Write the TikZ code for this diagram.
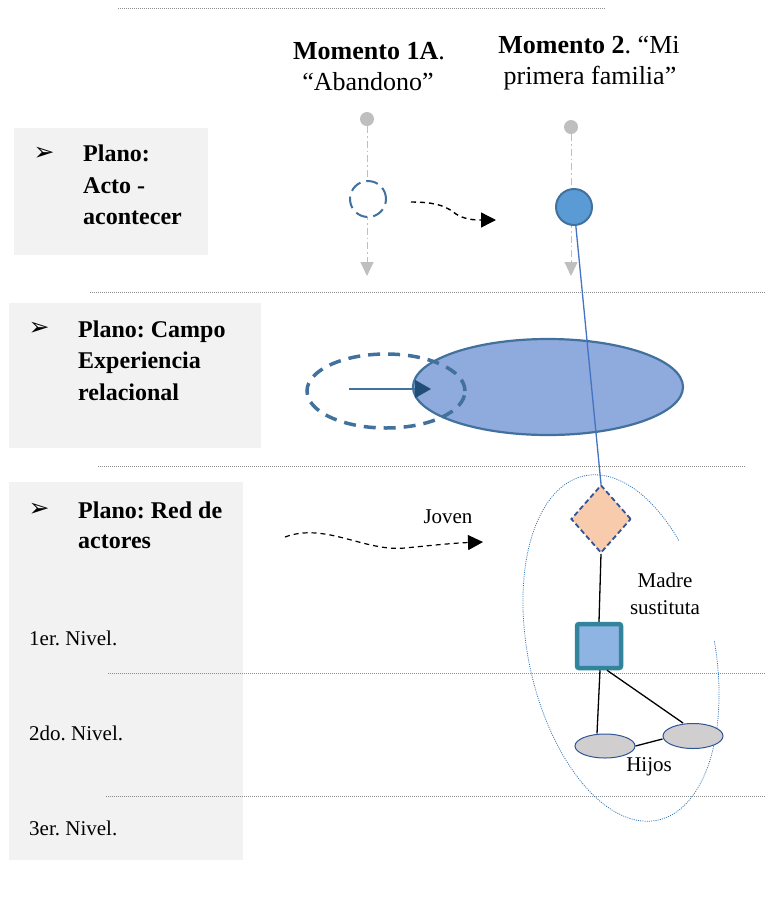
\documentclass[tikz,border=0pt]{standalone}
\usepackage{fontspec}
\setmainfont{Liberation Serif}
\newfontfamily\symfont{DejaVu Sans}
\usetikzlibrary{shapes.geometric,arrows.meta}
\definecolor{panelgray}{HTML}{F2F2F2}
\definecolor{sepgray}{HTML}{8C8C8C}
\definecolor{lgray}{HTML}{BFBFBF}
\definecolor{steel}{HTML}{41719C}
\definecolor{ellfill}{HTML}{8FAADC}
\definecolor{circfill}{HTML}{5B9BD5}
\definecolor{bline}{HTML}{4472C4}
\definecolor{darkblue}{HTML}{1F4E79}
\definecolor{diafill}{HTML}{F8CBAD}
\definecolor{diadraw}{HTML}{2F5597}
\definecolor{sqfill}{HTML}{8EB4E3}
\definecolor{sqdraw}{HTML}{31849B}
\definecolor{hijfill}{HTML}{D0CECE}
\definecolor{dotblue}{HTML}{2E75B6}
\frenchspacing
\begin{document}
\begin{tikzpicture}[x=1pt,y=-1pt,
  sep/.style={draw=sepgray, line width=0.8pt, dash pattern=on 1pt off 1pt},
  panel/.style={fill=panelgray},
  boldtxt/.style={anchor=base west, inner sep=0, font=\fontsize{24}{28}\selectfont\bfseries},
  lvl/.style={anchor=base west, inner sep=0, font=\fontsize{21}{25}\selectfont},
  bul/.style={anchor=base, inner sep=0, font=\symfont\fontsize{25}{25}\selectfont},
  head/.style={anchor=base, inner sep=0, font=\fontsize{26}{30}\selectfont},
  small/.style={inner sep=0, font=\fontsize{21}{25}\selectfont, align=center},
  gdot/.style={circle, fill=lgray, minimum size=14pt, inner sep=0},
  gline/.style={draw=lgray, line width=1pt, dash pattern=on 7pt off 3pt on 1.5pt off 3pt, -{Triangle[length=14pt,width=13pt,fill=lgray]}},
  blkarrow/.style={draw=black, line width=1.4pt, dash pattern=on 5pt off 4pt, -{Triangle[length=15pt,width=15pt]}},
  dashcirc/.style={circle, draw=steel, line width=2pt, dash pattern=on 12pt off 6pt, fill=white, minimum size=36pt, inner sep=0},
  fullcirc/.style={circle, draw=steel, line width=2pt, fill=circfill, minimum size=36pt, inner sep=0},
  bigell/.style={ellipse, draw=steel, line width=2.2pt, fill=ellfill, minimum width=270pt, minimum height=96pt, inner sep=0},
  dashell/.style={ellipse, draw=steel, line width=3.5pt, dash pattern=on 12pt off 8pt, minimum width=158pt, minimum height=74pt, inner sep=0},
  diastyle/.style={diamond, draw=diadraw, line width=1.8pt, dash pattern=on 5pt off 3pt, fill=diafill, minimum width=60pt, minimum height=68pt, inner sep=0},
  sqstyle/.style={rectangle, draw=sqdraw, line width=4.5pt, fill=sqfill, minimum size=44pt, inner sep=0, rounded corners=2pt},
  hijstyle/.style={ellipse, draw=diadraw, line width=1pt, fill=hijfill, minimum width=60pt, minimum height=24pt, inner sep=0},
  link/.style={draw=black, line width=1.3pt}
]
\useasboundingbox (0,0) rectangle (766,898);

% panels
\fill[panel] (14,128) rectangle (208,255);
\fill[panel] (9,303) rectangle (261,448);
\fill[panel] (9,482) rectangle (243,860);

% separators
\coordinate (s1a) at (118,8);   \coordinate (s1b) at (605,8);
\coordinate (s2a) at (90,292);  \coordinate (s2b) at (766,292);
\coordinate (s3a) at (98,466);  \coordinate (s3b) at (746,466);
\coordinate (s4a) at (108,673); \coordinate (s4b) at (766,673);
\coordinate (s5a) at (106,796); \coordinate (s5b) at (766,796);
\draw[sep] (s1a) -- (s1b);
\draw[sep] (s2a) -- (s2b);
\draw[sep] (s3a) -- (s3b);
\draw[sep] (s4a) -- (s4b);
\draw[sep] (s5a) -- (s5b);

% panel texts
\node[bul] (b1) at (44,160) {➢};
\node[boldtxt] (p1a) at (83,161) {Plano:};
\node[boldtxt] (p1b) at (83,193) {Acto -};
\node[boldtxt] (p1c) at (83,224) {acontecer};

\node[bul] (b2) at (39,335) {➢};
\node[boldtxt] (p2a) at (78,337) {Plano: Campo};
\node[boldtxt] (p2b) at (78,368) {Experiencia};
\node[boldtxt] (p2c) at (78,400) {relacional};

\node[bul] (b3) at (39,516) {➢};
\node[boldtxt] (p3a) at (78,518) {Plano: Red de};
\node[boldtxt] (p3b) at (78,548) {actores};

\node[lvl] (n1) at (29,645) {1er. Nivel.};
\node[lvl] (n2) at (29,740) {2do. Nivel.};
\node[lvl] (n3) at (29,835) {3er. Nivel.};

% headings
\node[head] (h1a) at (369,59) {\textbf{Momento 1A}.};
\node[head] (h1b) at (368,90) {“Abandono”};
\node[head] (h2a) at (589,53) {\textbf{Momento 2}. “Mi};
\node[head] (h2b) at (590,84) {primera familia”};

% time lines
\node[gdot] (d1) at (367,119) {};
\node[gdot] (d2) at (571,127) {};
\coordinate (e1) at (367,276);
\coordinate (e2) at (571,276);
\draw[gline] (d1) -- (e1);
\draw[gline] (d2) -- (e2);

\node[dashcirc] (c1) at (368,199) {};
\node[fullcirc] (c2) at (574,207) {};

\coordinate (a1s) at (411,202);
\coordinate (a1e) at (496,220);
\draw[blkarrow] (a1s) .. controls (440,202) and (448,208) .. (456,214) .. controls (464,219) and (472,220) .. (a1e);

% relational field
\node[bigell] (bigE) at (548,387) {};
\node[dashell] (dashE) at (386,391) {};
\coordinate (ar1) at (349,389);
\coordinate (ar2) at (431,389);
\draw[draw=steel, line width=1.4pt, -{Triangle[length=16pt,width=18pt,fill=darkblue,color=darkblue]}] (ar1) -- (ar2);

% Joven arrow
\coordinate (j1) at (285,537);
\coordinate (j2) at (483,542);
\draw[blkarrow, line width=1.2pt] (j1) .. controls (325,522) and (365,552) .. (405,548) .. controls (435,545) and (455,543) .. (j2);
\node[small] (jov) at (448,517) {Joven};

% big dotted ellipse with gap
\begin{scope}[shift={(621,648)}, y=1pt, rotate=12]
\draw[draw=dotblue, line width=0.8pt, dash pattern=on 1pt off 1.2pt] (32:93 and 176) arc[start angle=32, end angle=356, x radius=93, y radius=176];
\end{scope}

% actor network
\node[diastyle] (dia) at (601,519) {};
\node[sqstyle] (sq) at (599,646) {};
\node[hijstyle] (hA) at (605,746) {};
\node[hijstyle, minimum height=25pt] (hB) at (693,736) {};

\draw[draw=bline, line width=1.3pt] (c2) -- (dia.north);
\draw[link] (dia.south) -- (sq.north);
\draw[link] ([xshift=1pt]sq.south) -- ([xshift=-8pt]hA.north);
\draw[link] ([xshift=8pt]sq.south) -- ([xshift=-10pt]hB.north);
\draw[link] (hA.east) -- ([yshift=-3pt]hB.west);

\node[small] (madre) at (665,594) {Madre\\[2pt]sustituta};
\node[small] (hijos) at (649,767) {Hijos};
\end{tikzpicture}
\end{document}
